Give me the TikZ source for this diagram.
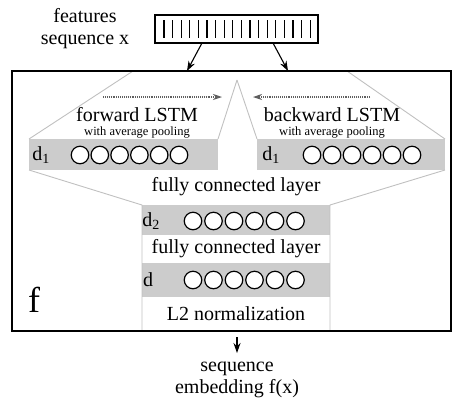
\documentclass[tikz,border=0pt]{standalone}
\usepackage{fontspec}
\setmainfont{Liberation Serif}
\usetikzlibrary{arrows.meta,positioning}
\definecolor{boxgray}{RGB}{204,204,204}
\definecolor{linegray}{RGB}{192,192,192}
\definecolor{arrowgray}{RGB}{95,95,95}
\begin{document}
\begin{tikzpicture}[x=1pt, y=-1pt,
  unit/.style={circle, draw, fill=white, line width=1.2pt, minimum size=17.5pt, inner sep=0pt},
  funnel/.style={draw=linegray, line width=0.9pt},
  txt/.style={font=\fontsize{20}{22}\selectfont, inner sep=0pt},
  small/.style={font=\fontsize{12.5}{14}\selectfont, inner sep=0pt},
  dots/.style={draw=arrowgray, line width=1.1pt, dash pattern=on 0.8pt off 1.1pt, -{Stealth[length=9pt,width=6pt,fill=arrowgray]}},
  feed/.style={line width=1.1pt, -{Stealth[length=10pt,width=7pt]}}]

\useasboundingbox (0,0) rectangle (454,400);

% input
\node[txt, align=center] (feat) at (85,29) {features\\sequence x};
\draw[line width=1.1pt] (155,15) rectangle (318,43);
\foreach \i in {0,...,17}
  \draw[line width=1.1pt] (164+8.6*\i,20) -- (164+8.6*\i,38);

\coordinate (s1) at (202,43);
\coordinate (s2) at (273,43);
\coordinate (t1) at (187,71);
\coordinate (t2) at (288,71);
\draw[feed] (s1) -- (t1);
\draw[feed] (s2) -- (t2);

% layer boxes
\fill[boxgray] (29,139) rectangle (218,170);
\fill[boxgray] (257,139) rectangle (445,170);
\fill[boxgray] (142,205) rectangle (330,235);
\fill[boxgray] (142,263) rectangle (330,297);

% funnels
\coordinate (apex) at (237,80);
\draw[funnel] (133,71) -- (29,139);
\draw[funnel] (apex) -- (218,139);
\draw[funnel] (apex) -- (257,139);
\draw[funnel] (347,71) -- (445,139);
\draw[funnel] (29,170) -- (142,205) -- (142,331);
\draw[funnel] (445,170) -- (330,205) -- (330,331);

% frame
\draw[line width=1.2pt] (12,71) rectangle (451,331);
\node[font=\fontsize{36}{40}\selectfont, inner sep=0pt] (f) at (34,300) {f};

% LSTM directions
\coordinate (fw1) at (103,97);
\coordinate (fw2) at (222,97);
\coordinate (bw1) at (370,97);
\coordinate (bw2) at (253,97);
\draw[dots] (fw1) -- (fw2);
\draw[dots] (bw1) -- (bw2);

\node[txt] (fwd) at (137,115) {forward LSTM};
\node[small] (fwdp) at (137,133) {with average pooling};
\node[txt] (bwd) at (332,115) {backward LSTM};
\node[small] (bwdp) at (332,133) {with average pooling};

% units
\node[txt] (d1a) at (41,155) {d\textsubscript{1}};
\node[txt] (d1b) at (271,155) {d\textsubscript{1}};
\node[txt] (d2) at (151,221) {d\textsubscript{2}};
\node[txt] (d) at (148,280) {d};
\foreach \i in {0,...,5} {
  \node[unit] (ua\i) at (80+19.8*\i,155) {};
  \node[unit] (ub\i) at (312+20*\i,155) {};
  \node[unit] (uc\i) at (193+20.5*\i,221) {};
  \node[unit] (ud\i) at (193+20.5*\i,280) {};
}

\node[txt] (fc1) at (236,187) {fully connected layer};
\node[txt] (fc2) at (236,249) {fully connected layer};
\node[txt] (l2) at (236,314) {L2 normalization};

% output
\coordinate (o1) at (237,337);
\coordinate (o2) at (237,353);
\draw[feed] (o1) -- (o2);
\node[txt, align=center] (emb) at (237,380) {sequence\\embedding f(x)};

\end{tikzpicture}
\end{document}
